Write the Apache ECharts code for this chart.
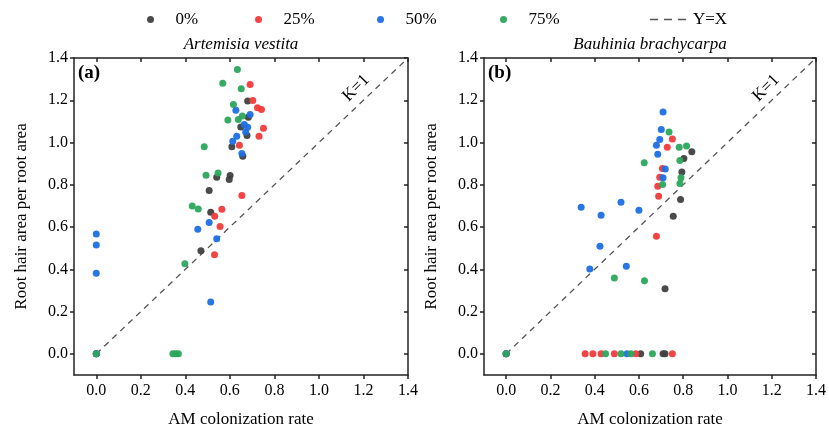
<!DOCTYPE html>
<html>
<head>
<meta charset="utf-8">
<script src="https://cdn.jsdelivr.net/npm/echarts@6/dist/echarts.min.js"></script>
<style>
  html, body { margin: 0; padding: 0; background: #fff; }
  #chart { width: 829px; height: 439px; }
</style>
</head>
<body>
<div id="chart"></div>
<script>
// tick labels shared by both panels
const tickValues = [0, 0.2, 0.4, 0.6, 0.8, 1.0, 1.2, 1.4]
const groupNames = ['0%', '25%', '50%', '75%']
const lineName = 'Y=X'
const panelTitles = ['Artemisia vestita', 'Bauhinia brachycarpa']
const panelTags = ['(a)', '(b)']

// panel (a): Artemisia vestita  [AM colonization rate, root hair area / root area]
const aZero = [[0,0],[0.68,1.196],[0.683,1.12],[0.649,1.074],[0.677,1.033],[0.609,0.98],[0.658,0.935],
  [0.541,0.836],[0.601,0.844],[0.597,0.825],[0.507,0.773],[0.514,0.67],[0.47,0.488]]
const aQuarter = [[0,0],[0.691,1.275],[0.703,1.199],[0.724,1.164],[0.742,1.156],[0.751,1.068],[0.731,1.03],
  [0.643,0.987],[0.654,0.749],[0.564,0.684],[0.532,0.651],[0.556,0.603],[0.531,0.469]]
const aHalf = [[0,0],[0,0.567],[0,0.515],[0,0.381],[0.627,1.153],[0.691,1.133],[0.665,1.085],[0.68,1.072],
  [0.671,1.05],[0.631,1.03],[0.613,1.006],[0.654,0.948],[0.507,0.622],[0.456,0.59],[0.541,0.545],[0.514,0.245]]
const aThreeQuarter = [[0,0],[0.634,1.346],[0.568,1.28],[0.651,1.254],[0.616,1.18],[0.656,1.125],[0.591,1.107],
  [0.638,1.109],[0.485,0.98],[0.493,0.845],[0.547,0.856],[0.431,0.7],[0.458,0.686],[0.398,0.427],
  [0.344,0],[0.357,0],[0.369,0]]

// panel (b): Bauhinia brachycarpa
const bZero = [[0,0],[0.839,0.956],[0.803,0.924],[0.794,0.861],[0.788,0.73],[0.755,0.651],[0.718,0.308],
  [0.608,0],[0.709,0],[0.718,0]]
const bQuarter = [[0,0],[0.751,1.017],[0.728,0.978],[0.706,0.877],[0.694,0.836],[0.685,0.793],[0.689,0.746],
  [0.679,0.556],[0.357,0],[0.392,0],[0.429,0],[0.489,0],[0.586,0],[0.751,0]]
const bHalf = [[0,0],[0.709,1.144],[0.701,1.062],[0.694,1.014],[0.679,0.987],[0.685,0.945],[0.719,0.875],
  [0.709,0.833],[0.339,0.694],[0.519,0.717],[0.6,0.68],[0.429,0.656],[0.424,0.509],[0.378,0.401],
  [0.543,0.414],[0.546,0]]
const bThreeQuarter = [[0,0],[0.736,1.05],[0.782,0.978],[0.815,0.984],[0.785,0.915],[0.624,0.904],[0.79,0.833],
  [0.707,0.801],[0.785,0.806],[0.489,0.359],[0.625,0.346],[0.449,0],[0.519,0],[0.564,0],[0.661,0]]

// reference line y = x
const diagLine = [[0,0],[1.4,1.4]]

const panelData = [
  [aZero, aQuarter, aHalf, aThreeQuarter],
  [bZero, bQuarter, bHalf, bThreeQuarter],
]

const colors = ['#404040', '#f03b3b', '#1c6fe3', '#2ba65b']
const font = 'Liberation Serif'
const axisColor = '#222'

const chart = echarts.init(document.getElementById('chart'))

const grids = [
  { left: 74, top: 58, width: 334, height: 317 },
  { left: 484, top: 58, width: 334, height: 317 },
]

let xAxes = []
let yAxes = []
let series = []

for (let p = 0; p < 2; p++) {
  // bottom axis (outward ticks, labels)
  xAxes.push({
    gridIndex: p, type: 'value', position: 'bottom', min: -0.1, max: 1.4,
    name: 'AM colonization rate', nameLocation: 'middle', nameGap: 36,
    nameTextStyle: { fontFamily: font, fontSize: 17, color: '#000' },
    axisLine: { onZero: false, lineStyle: { color: axisColor, width: 1.5 } },
    axisTick: { inside: false, length: 4, customValues: tickValues, lineStyle: { color: axisColor, width: 1.5 } },
    axisLabel: { customValues: tickValues, fontFamily: font, fontSize: 16, color: '#000', margin: 8,
      formatter: v => v.toFixed(1) },
    splitLine: { show: false },
  })
  // top mirror axis (inward ticks), carries the species title
  xAxes.push({
    gridIndex: p, type: 'value', position: 'top', min: -0.1, max: 1.4,
    name: panelTitles[p], nameLocation: 'middle', nameGap: 5,
    nameTextStyle: { fontFamily: font, fontSize: 17, fontStyle: 'italic', color: '#000' },
    axisLine: { onZero: false, lineStyle: { color: axisColor, width: 1.5 } },
    axisTick: { inside: true, length: 4, customValues: tickValues, lineStyle: { color: axisColor, width: 1.5 } },
    axisLabel: { show: false },
    splitLine: { show: false },
  })
  // left axis
  yAxes.push({
    gridIndex: p, type: 'value', position: 'left', min: -0.1, max: 1.4,
    name: 'Root hair area per root area', nameLocation: 'middle', nameGap: 44,
    nameTextStyle: { fontFamily: font, fontSize: 17, color: '#000' },
    axisLine: { show: true, onZero: false, lineStyle: { color: axisColor, width: 1.5 } },
    axisTick: { show: true, inside: false, length: 4, customValues: tickValues, lineStyle: { color: axisColor, width: 1.5 } },
    axisLabel: { customValues: tickValues, fontFamily: font, fontSize: 16, color: '#000', margin: 6,
      formatter: v => v.toFixed(1) },
    splitLine: { show: false },
  })
  // right mirror axis
  yAxes.push({
    gridIndex: p, type: 'value', position: 'right', min: -0.1, max: 1.4,
    axisLine: { show: true, onZero: false, lineStyle: { color: axisColor, width: 1.5 } },
    axisTick: { show: true, inside: true, length: 4, customValues: tickValues, lineStyle: { color: axisColor, width: 1.5 } },
    axisLabel: { show: false },
    splitLine: { show: false },
  })

  series.push({
    name: lineName, type: 'line', xAxisIndex: p * 2, yAxisIndex: p * 2,
    data: diagLine, symbol: 'none', silent: true, z: 1,
    itemStyle: { color: '#555' },
    lineStyle: { color: '#555', width: 1.3, type: [6, 5] },
  })
  for (let g = 0; g < 4; g++) {
    series.push({
      name: groupNames[g], type: 'scatter', xAxisIndex: p * 2, yAxisIndex: p * 2,
      data: panelData[p][g], symbolSize: 7, z: 2 + g,
      itemStyle: { color: colors[g], opacity: 0.95 },
    })
  }
}

// one legend per item so spacing follows the figure
const legendLefts = [142, 250, 372, 495]
let legends = groupNames.map((n, i) => ({
  data: [n], left: legendLefts[i], top: 6, icon: 'circle',
  itemWidth: 28, itemHeight: 7,
  textStyle: { fontFamily: font, fontSize: 17, color: '#000', padding: [0, 0, 0, 6] },
}))
// dashed swatch for the y = x line
const dashIcon = 'path://M0,0h8v1.6h-8zM14,0h8v1.6h-8zM28,0h8v1.6h-8z'
legends.push({
  data: [{ name: lineName, icon: dashIcon }], left: 645, top: 6, itemWidth: 36, itemHeight: 12,
  itemStyle: { color: '#555' },
  textStyle: { fontFamily: font, fontSize: 17, color: '#000', padding: [0, 0, 0, 2] },
})

chart.setOption({
  animation: false,
  grid: grids,
  xAxis: xAxes,
  yAxis: yAxes,
  legend: legends,
  series: series,
  graphic: [
    { type: 'text', left: 78, top: 64, style: { text: panelTags[0], font: 'bold 19px "Liberation Serif"', fill: '#000' } },
    { type: 'text', left: 488, top: 64, style: { text: panelTags[1], font: 'bold 19px "Liberation Serif"', fill: '#000' } },
    { type: 'text', x: 356, y: 88, rotation: Math.PI / 4,
      style: { text: 'K=1', font: '17px "Liberation Serif"', fill: '#000', align: 'center', verticalAlign: 'middle' } },
    { type: 'text', x: 766, y: 88, rotation: Math.PI / 4,
      style: { text: 'K=1', font: '17px "Liberation Serif"', fill: '#000', align: 'center', verticalAlign: 'middle' } },
  ],
})
</script>
</body>
</html>
